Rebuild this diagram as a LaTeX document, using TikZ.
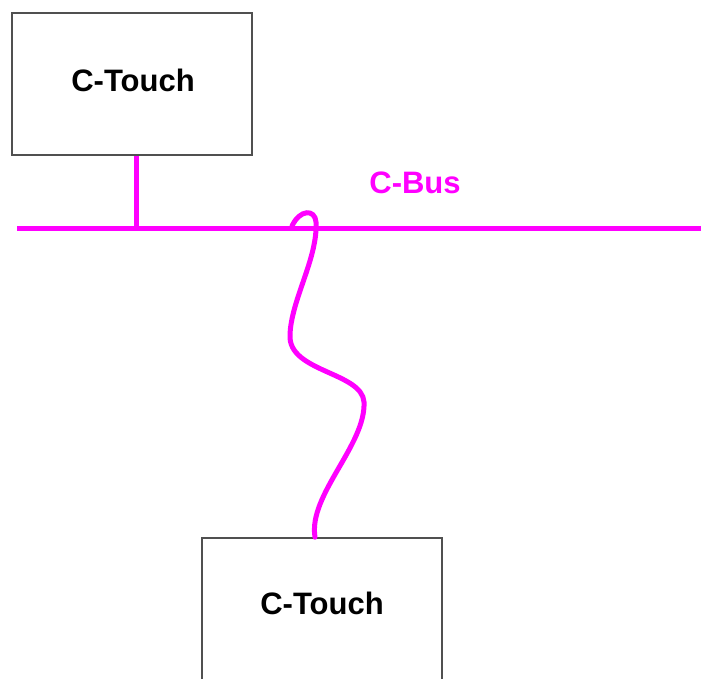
\documentclass[tikz,border=0pt]{standalone}
\usepackage{fontspec}
\setmainfont{Liberation Sans}
\definecolor{busmag}{HTML}{FF00FF}
\definecolor{boxgray}{HTML}{505050}
\begin{document}
\begin{tikzpicture}[x=1pt,y=-1pt,
  devbox/.style={draw=boxgray, line width=1.5pt, fill=white, minimum width=240pt, minimum height=142pt, inner sep=0pt},
  devlabel/.style={anchor=base, inner sep=0pt, font=\fontsize{31}{36}\selectfont\bfseries},
  buswire/.style={draw=busmag, line width=5pt},
  buslabel/.style={text=busmag, anchor=base, font=\fontsize{31}{36}\selectfont\bfseries, inner sep=0pt}]
\useasboundingbox[fill=white] (0,0) rectangle (701,678);
\node[devbox] (top) at (132,84) {};
\node[devbox] (bot) at (322,609) {};
\node[devlabel] (toptxt) at (133,91) {C-Touch};
\node[devlabel] (bottxt) at (322,614) {C-Touch};
\node[buslabel] (buslbl) at (415,193) {C-Bus};
\coordinate (busL) at (17,228);
\coordinate (busR) at (701,228);
\coordinate (tap) at (136,228);
\draw[buswire] (busL) -- (busR);
\draw[buswire] ([xshift=4pt]top.south) -- (tap);
\draw[buswire, line cap=round]
  ([xshift=-7pt]bot.north) .. controls (308,495) and (366,445) .. (364,402)
  .. controls (362,372) and (288,372) .. (290,335)
  .. controls (291,300) and (318,258) .. (316,222)
  .. controls (315,209) and (300,209) .. (292,226);
\end{tikzpicture}
\end{document}
